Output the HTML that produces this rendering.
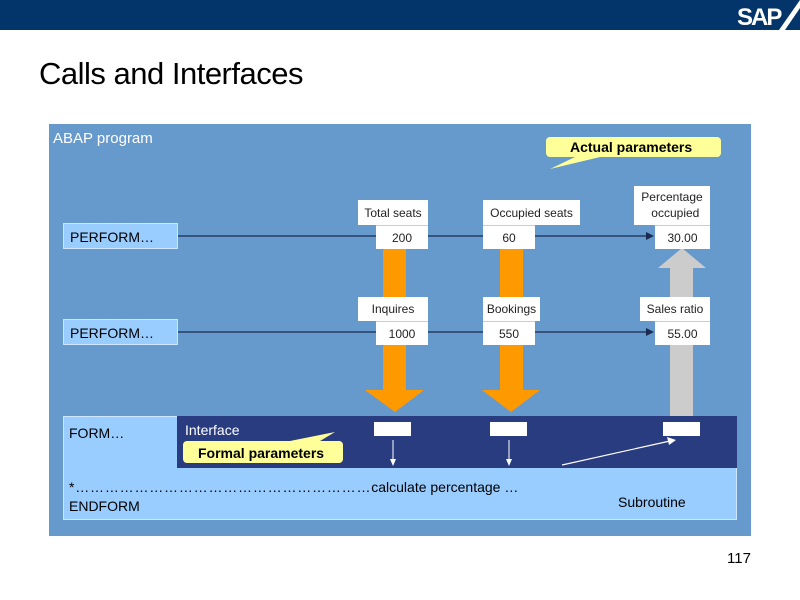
<!DOCTYPE html>
<html><head><meta charset="utf-8"><style>
body{margin:0;width:800px;height:600px;position:relative;background:#fff;font-family:"Liberation Sans",Arial,sans-serif;overflow:hidden}
.a{position:absolute}
.lb{position:absolute;background:#fff;font-size:12px;color:#222;text-align:center;box-sizing:border-box}
</style></head><body>
<div class="a" style="left:0;top:0;width:800px;height:30px;background:#03356a"></div>
<svg class="a" style="left:0;top:0" width="800" height="600">
<polygon points="800,0 800,8 785,30 779,30 800,0" fill="#fff"/>
<text x="737" y="25" font-family="Liberation Sans" font-weight="bold" font-size="24" fill="#fff" letter-spacing="-2">SAP</text>
</svg>
<div class="a" style="left:39px;top:56px;font-size:31px;color:#000;letter-spacing:-0.5px">Calls and Interfaces</div>
<div class="a" style="left:49px;top:124px;width:702px;height:412px;background:#6699cc"></div>
<div class="a" style="left:53px;top:130px;font-size:15px;color:#fff">ABAP program</div>
<div class="a" style="left:63px;top:223px;width:115px;height:26px;background:#99ccff;border:1px solid #cfe6ff;box-sizing:border-box;font-size:14px;padding:5px 0 0 6px">PERFORM…</div>
<div class="a" style="left:63px;top:319px;width:115px;height:26px;background:#99ccff;border:1px solid #cfe6ff;box-sizing:border-box;font-size:14px;padding:5px 0 0 6px">PERFORM…</div>
<div class="a" style="left:63px;top:416px;width:674px;height:104px;background:#99ccff;border:1px solid #cfe6ff;box-sizing:border-box"></div>
<div class="a" style="left:177px;top:416px;width:560px;height:52px;background:#2a3c80"></div>
<svg class="a" style="left:0;top:0" width="800" height="600">
<line x1="178" y1="236" x2="648" y2="236" stroke="#1a2a50" stroke-width="1.2"/>
<polygon points="654,236 646,232 646,240" fill="#1a2a50"/>
<line x1="178" y1="332" x2="648" y2="332" stroke="#1a2a50" stroke-width="1.2"/>
<polygon points="654,332 646,328 646,336" fill="#1a2a50"/>
<polygon points="383,249 406,249 406,390 424,390 395,412 365,390 383,390" fill="#ff9900"/>
<polygon points="500,249 523,249 523,390 540,390 511,412 482,390 500,390" fill="#ff9900"/>
<polygon points="670,416 693,416 693,268 706,268 682,248 658,268 670,268" fill="#cccccc"/>
<rect x="374" y="422" width="37" height="14" fill="#fff"/>
<rect x="490" y="422" width="37" height="14" fill="#fff"/>
<rect x="663" y="422" width="37" height="14" fill="#fff"/>
<line x1="393" y1="440" x2="393" y2="462" stroke="#fff"/><polygon points="393,466 390,459 396,459" fill="#fff"/>
<line x1="509" y1="440" x2="509" y2="462" stroke="#fff"/><polygon points="509,466 506,459 512,459" fill="#fff"/>
<line x1="562" y1="465" x2="670" y2="441" stroke="#fff" stroke-width="1.2"/><polygon points="676,440 667,437 669,445" fill="#fff"/>
<polygon points="290,441 335,432 320,441" fill="#ffff99"/>
<rect x="183" y="441" width="160" height="22" rx="4" fill="#ffff99"/>
<polygon points="575,157 550,169 600,157" fill="#ffff99"/>
<rect x="546" y="137" width="175" height="20" rx="4" fill="#ffff99"/>
</svg>
<div class="a" style="left:570px;top:139px;font-size:14px;font-weight:bold;color:#000">Actual parameters</div>
<div class="a" style="left:198px;top:445px;font-size:14px;font-weight:bold;color:#000">Formal parameters</div>
<div class="a" style="left:185px;top:422px;font-size:14px;color:#fff">Interface</div>
<div class="a" style="left:69px;top:425px;font-size:14px">FORM…</div>
<div class="a" style="left:69px;top:479px;font-size:14px;white-space:nowrap"><span style="letter-spacing:0.8px">*……………………………………………………</span>calculate percentage …</div>
<div class="a" style="left:69px;top:498px;font-size:14px">ENDFORM</div>
<div class="a" style="left:618px;top:494px;font-size:14px">Subroutine</div>
<div class="lb" style="left:358px;top:200px;width:70px;height:25px;padding-top:6px">Total seats</div>
<div class="lb" style="left:376px;top:225px;width:52px;height:24px;padding-top:5px;border-top:1px solid #ccc">200</div>
<div class="lb" style="left:483px;top:200px;width:97px;height:25px;padding-top:6px">Occupied seats</div>
<div class="lb" style="left:483px;top:225px;width:52px;height:24px;padding-top:5px;border-top:1px solid #ccc">60</div>
<div class="lb" style="left:634px;top:186px;width:76px;height:39px;padding-top:3px;line-height:16px">Percentage<br>&nbsp;&nbsp;occupied</div>
<div class="lb" style="left:655px;top:225px;width:55px;height:24px;padding-top:5px;border-top:1px solid #ccc">30.00</div>
<div class="lb" style="left:358px;top:297px;width:70px;height:24px;padding-top:5px">Inquires</div>
<div class="lb" style="left:376px;top:321px;width:52px;height:24px;padding-top:5px;border-top:1px solid #ccc">1000</div>
<div class="lb" style="left:483px;top:297px;width:57px;height:24px;padding-top:5px">Bookings</div>
<div class="lb" style="left:483px;top:321px;width:52px;height:24px;padding-top:5px;border-top:1px solid #ccc">550</div>
<div class="lb" style="left:640px;top:297px;width:70px;height:24px;padding-top:5px">Sales ratio</div>
<div class="lb" style="left:655px;top:321px;width:55px;height:24px;padding-top:5px;border-top:1px solid #ccc">55.00</div>
<div class="a" style="left:727px;top:550px;font-size:15px">117</div>
</body></html>
